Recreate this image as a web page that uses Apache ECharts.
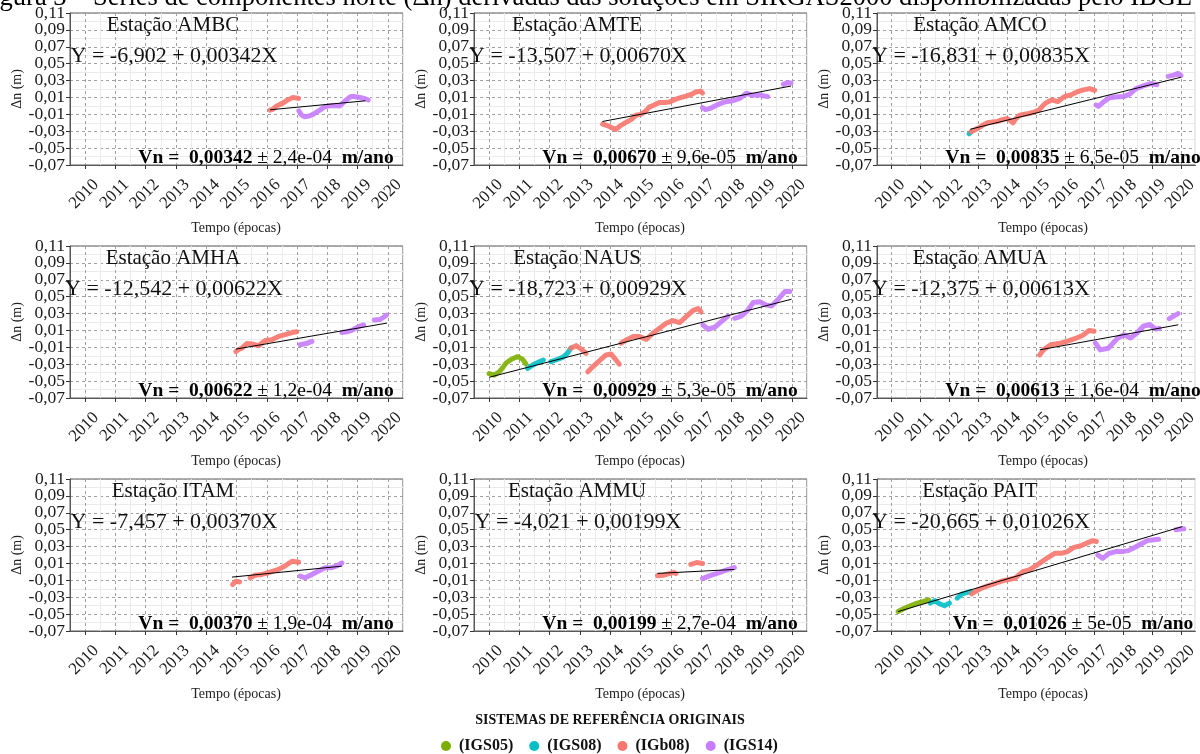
<!DOCTYPE html>
<html><head><meta charset="utf-8">
<script src="https://cdn.jsdelivr.net/npm/echarts@6/dist/echarts.min.js"></script>
<style>html,body{margin:0;padding:0;background:#fff}#chart{width:1200px;height:754px}</style>
</head><body><div id="chart"></div>
<script>
// ---------- DATA ----------
const stations = ['AMBC','AMTE','AMCO','AMHA','NAUS','AMUA','ITAM','AMMU','PAIT'];
const equations = ['Y = -6,902 + 0,00342X','Y = -13,507 + 0,00670X','Y = -16,831 + 0,00835X',
  'Y = -12,542 + 0,00622X','Y = -18,723 + 0,00929X','Y = -12,375 + 0,00613X',
  'Y = -7,457 + 0,00370X','Y = -4,021 + 0,00199X','Y = -20,665 + 0,01026X'];
const velocities = ['0,00342','0,00670','0,00835','0,00622','0,00929','0,00613','0,00370','0,00199','0,01026'];
const sigmas = ['2,4e-04','9,6e-05','6,5e-05','1,2e-04','5,3e-05','1,6e-04','1,9e-04','2,7e-04','5e-05'];
const frames = ['(IGS05)','(IGS08)','(IGb08)','(IGS14)'];
const yearTicks = [2010,2011,2012,2013,2014,2015,2016,2017,2018,2019,2020];
const yearMinor = [2009.5,2010.5,2011.5,2012.5,2013.5,2014.5,2015.5,2016.5,2017.5,2018.5,2019.5,2020.5];
const deltaTicks = [-0.07,-0.05,-0.03,-0.01,0.01,0.03,0.05,0.07,0.09,0.11];
const deltaMinor = [-0.06,-0.04,-0.02,0,0.02,0.04,0.06,0.08,0.10];

// AMBC
const AMBC_IGb08 = [[2016.11,-0.0050],[2016.2,-0.0040],[2016.31,-0.0005],[2016.42,0.0015],[2016.53,0.0033],[2016.64,0.0060],[2016.75,0.0080],[2016.86,0.0100],[2016.96,0.0095],[2017.05,0.0088]];
const AMBC_IGS14 = [[2017.06,-0.0060],[2017.15,-0.0110],[2017.25,-0.0130],[2017.4,-0.0120],[2017.53,-0.0100],[2017.75,-0.0050],[2017.9,-0.0015],[2018.02,0.0000],[2018.19,0.0005],[2018.41,0.0000],[2018.63,0.0070],[2018.75,0.0105],[2018.85,0.0115],[2019.07,0.0100],[2019.25,0.0085],[2019.35,0.0070]];
const AMBC_fit = [[2016.11,-0.0046],[2019.26,0.0060]];
// AMTE
const AMTE_IGb08 = [[2013.75,-0.0215],[2013.95,-0.0240],[2014.18,-0.0280],[2014.35,-0.0230],[2014.55,-0.0190],[2014.7,-0.0160],[2014.85,-0.0110],[2015.0,-0.0100],[2015.15,-0.0070],[2015.29,-0.0015],[2015.45,0.0010],[2015.62,0.0040],[2015.8,0.0040],[2015.95,0.0045],[2016.17,0.0080],[2016.35,0.0100],[2016.5,0.0115],[2016.7,0.0140],[2016.83,0.0165],[2016.99,0.0175],[2017.05,0.0150]];
const AMTE_IGS14a = [[2017.05,-0.0020],[2017.15,-0.0045],[2017.3,-0.0030],[2017.49,0.0005],[2017.65,0.0030],[2017.82,0.0050],[2018.04,0.0060],[2018.26,0.0085],[2018.4,0.0120],[2018.5,0.0150],[2018.7,0.0125],[2018.92,0.0130],[2019.05,0.0120],[2019.2,0.0110]];
const AMTE_IGS14b = [[2019.72,0.0255],[2019.85,0.0275],[2019.97,0.0270]];
const AMTE_fit = [[2013.74,-0.0185],[2019.97,0.0235]];
// AMCO
const AMCO_IGS08 = [[2012.68,-0.0330],[2012.75,-0.0310]];
const AMCO_IGb08 = [[2012.75,-0.0305],[2012.99,-0.0265],[2013.15,-0.0230],[2013.32,-0.0200],[2013.5,-0.0190],[2013.65,-0.0185],[2013.8,-0.0165],[2013.98,-0.0150],[2014.1,-0.0170],[2014.2,-0.0200],[2014.3,-0.0150],[2014.43,-0.0110],[2014.6,-0.0100],[2014.76,-0.0090],[2014.95,-0.0070],[2015.09,-0.0050],[2015.2,-0.0010],[2015.31,0.0030],[2015.53,0.0070],[2015.65,0.0060],[2015.75,0.0050],[2015.97,0.0110],[2016.19,0.0130],[2016.41,0.0165],[2016.63,0.0190],[2016.85,0.0205],[2017.02,0.0185]];
const AMCO_IGS14a = [[2017.07,0.0010],[2017.15,-0.0005],[2017.3,0.0040],[2017.52,0.0095],[2017.74,0.0105],[2018.01,0.0110],[2018.23,0.0140],[2018.45,0.0205],[2018.68,0.0235],[2018.95,0.0265],[2019.17,0.0250]];
const AMCO_IGS14b = [[2019.56,0.0350],[2019.75,0.0365],[2019.9,0.0385],[2020.0,0.0360]];
const AMCO_fit = [[2012.72,-0.0277],[2020.0,0.0339]];
// AMHA
const AMHA_IGb08 = [[2014.98,-0.0150],[2015.1,-0.0120],[2015.18,-0.0110],[2015.34,-0.0055],[2015.51,-0.0060],[2015.73,-0.0080],[2015.95,-0.0020],[2016.17,-0.0010],[2016.39,0.0030],[2016.61,0.0050],[2016.83,0.0075],[2016.99,0.0085]];
const AMHA_IGS14a = [[2017.1,-0.0070],[2017.3,-0.0055],[2017.49,-0.0030]];
const AMHA_IGS14b = [[2018.48,0.0075],[2018.65,0.0085],[2018.81,0.0100],[2019.03,0.0145],[2019.2,0.0165]];
const AMHA_IGS14c = [[2019.55,0.0225],[2019.75,0.0230],[2019.95,0.0280]];
const AMHA_fit = [[2014.98,-0.0121],[2019.97,0.0187]];
// NAUS
const NAUS_IGS05 = [[2010.0,-0.0410],[2010.17,-0.0430],[2010.33,-0.0390],[2010.45,-0.0340],[2010.55,-0.0290],[2010.66,-0.0260],[2010.77,-0.0235],[2010.94,-0.0210],[2011.1,-0.0240],[2011.21,-0.0295]];
const NAUS_IGS08a = [[2011.27,-0.0350],[2011.44,-0.0310],[2011.66,-0.0270],[2011.79,-0.0250]];
const NAUS_IGS08b = [[2012.04,-0.0270],[2012.2,-0.0250],[2012.43,-0.0220],[2012.59,-0.0170],[2012.7,-0.0110]];
const NAUS_IGb08a = [[2012.7,-0.0110],[2012.87,-0.0080],[2013.04,-0.0120],[2013.2,-0.0170]];
const NAUS_IGb08b = [[2013.26,-0.0390],[2013.42,-0.0330],[2013.64,-0.0260],[2013.86,-0.0190],[2014.03,-0.0180],[2014.19,-0.0250],[2014.3,-0.0300]];
const NAUS_IGb08c = [[2014.36,-0.0050],[2014.53,-0.0013],[2014.75,0.0027],[2014.97,0.0027],[2015.19,-0.0005],[2015.41,0.0066],[2015.63,0.0126],[2015.85,0.0185],[2016.07,0.0217],[2016.29,0.0193],[2016.51,0.0264],[2016.73,0.0335],[2016.9,0.0360],[2017.0,0.0320]];
const NAUS_IGS14a = [[2017.06,0.0165],[2017.23,0.0114],[2017.45,0.0138],[2017.67,0.0205],[2017.89,0.0270]];
const NAUS_IGS14b = [[2018.11,0.0244],[2018.33,0.0270],[2018.55,0.0340],[2018.72,0.0430],[2018.94,0.0440],[2019.16,0.0400],[2019.33,0.0390],[2019.55,0.0470],[2019.77,0.0560],[2019.93,0.0560]];
const NAUS_fit = [[2010.0,-0.0455],[2019.99,0.0470]];
// AMUA
const AMUA_IGb08 = [[2015.12,-0.0190],[2015.25,-0.0130],[2015.5,-0.0070],[2015.84,-0.0050],[2016.06,-0.0030],[2016.39,0.0010],[2016.6,0.0040],[2016.83,0.0100],[2017.0,0.0090]];
const AMUA_IGS14a = [[2017.05,-0.0050],[2017.21,-0.0130],[2017.49,-0.0110],[2017.82,0.0010],[2018.04,0.0050],[2018.26,0.0010],[2018.48,0.0070],[2018.7,0.0150],[2018.92,0.0170],[2019.14,0.0115],[2019.25,0.0125]];
const AMUA_IGS14b = [[2019.6,0.0240],[2019.75,0.0270],[2019.9,0.0300]];
const AMUA_fit = [[2015.12,-0.0130],[2019.91,0.0167]];
// ITAM
const ITAM_IGb08a = [[2014.87,-0.0150],[2014.98,-0.0110],[2015.1,-0.0120]];
const ITAM_IGb08b = [[2015.45,-0.0070],[2015.62,-0.0040],[2015.84,-0.0030],[2016.06,-0.0010],[2016.39,0.0030],[2016.6,0.0070],[2016.83,0.0125],[2017.05,0.0115]];
const ITAM_IGS14 = [[2017.1,-0.0050],[2017.27,-0.0070],[2017.49,-0.0030],[2017.71,0.0010],[2017.93,0.0050],[2018.15,0.0050],[2018.31,0.0070],[2018.48,0.0105]];
const ITAM_fit = [[2014.85,-0.0062],[2018.48,0.0068]];
// AMMU
const AMMU_IGb08a = [[2015.56,-0.0045],[2015.75,-0.0040],[2015.95,-0.0020],[2016.1,-0.0005],[2016.17,-0.0020]];
const AMMU_IGb08b = [[2016.66,0.0090],[2016.85,0.0110],[2017.05,0.0100]];
const AMMU_IGS14 = [[2017.05,-0.0080],[2017.25,-0.0050],[2017.6,-0.0010],[2017.8,0.0017],[2018.04,0.0045],[2018.1,0.0050]];
const AMMU_fit = [[2015.56,-0.0018],[2018.1,0.0029]];
// PAIT
const PAIT_IGS05 = [[2010.23,-0.0470],[2010.45,-0.0430],[2010.67,-0.0400],[2010.89,-0.0370],[2011.11,-0.0350],[2011.28,-0.0330]];
const PAIT_IGS08a = [[2011.34,-0.0370],[2011.5,-0.0340],[2011.67,-0.0380],[2011.83,-0.0400],[2012.0,-0.0370]];
const PAIT_IGS08b = [[2012.27,-0.0310],[2012.44,-0.0260],[2012.6,-0.0246],[2012.75,-0.0230]];
const PAIT_IGb08 = [[2012.77,-0.0260],[2012.99,-0.0214],[2013.21,-0.0180],[2013.43,-0.0155],[2013.65,-0.0127],[2013.87,-0.0103],[2014.09,-0.0088],[2014.26,-0.0076],[2014.54,0.0003],[2014.76,0.0023],[2014.98,0.0070],[2015.2,0.0122],[2015.42,0.0173],[2015.64,0.0220],[2015.86,0.0220],[2016.08,0.0240],[2016.3,0.0290],[2016.52,0.0307],[2016.74,0.0340],[2016.96,0.0370],[2017.08,0.0360]];
const PAIT_IGS14a = [[2017.13,0.0200],[2017.3,0.0160],[2017.52,0.0220],[2017.74,0.0240],[2017.96,0.0240],[2018.18,0.0252],[2018.4,0.0290],[2018.62,0.0330],[2018.84,0.0370],[2019.06,0.0380],[2019.23,0.0386]];
const PAIT_IGS14b = [[2019.83,0.0500],[2019.95,0.0505],[2020.1,0.0510]];
const PAIT_fit = [[2010.23,-0.0470],[2020.05,0.0537]];

// segments per station: [frame index, data]
const segments = [
  [[2,AMBC_IGb08],[3,AMBC_IGS14]],
  [[2,AMTE_IGb08],[3,AMTE_IGS14a],[3,AMTE_IGS14b]],
  [[1,AMCO_IGS08],[2,AMCO_IGb08],[3,AMCO_IGS14a],[3,AMCO_IGS14b]],
  [[2,AMHA_IGb08],[3,AMHA_IGS14a],[3,AMHA_IGS14b],[3,AMHA_IGS14c]],
  [[0,NAUS_IGS05],[1,NAUS_IGS08a],[1,NAUS_IGS08b],[2,NAUS_IGb08a],[2,NAUS_IGb08b],[2,NAUS_IGb08c],[3,NAUS_IGS14a],[3,NAUS_IGS14b]],
  [[2,AMUA_IGb08],[3,AMUA_IGS14a],[3,AMUA_IGS14b]],
  [[2,ITAM_IGb08a],[2,ITAM_IGb08b],[3,ITAM_IGS14]],
  [[2,AMMU_IGb08a],[2,AMMU_IGb08b],[3,AMMU_IGS14]],
  [[0,PAIT_IGS05],[1,PAIT_IGS08a],[1,PAIT_IGS08b],[2,PAIT_IGb08],[3,PAIT_IGS14a],[3,PAIT_IGS14b]]
];
const fits = [AMBC_fit,AMTE_fit,AMCO_fit,AMHA_fit,NAUS_fit,AMUA_fit,ITAM_fit,AMMU_fit,PAIT_fit];

// ---------- STYLE / LAYOUT ----------
const FAM = '"Liberation Serif", "Times New Roman", serif';
const frameColors = ['#7CAE00','#00BFC4','#F8766D','#C77CFF'];
const colLeft = [70, 474, 877], rowTop = [13, 246, 479], PW = 333, PH = 152;

const grid = [], xAxis = [], yAxis = [], series = [], graphic = [];
const fmtY = v => v.toFixed(2).replace('.', ',');
// tick labels split over two axes so neighbouring labels never get hidden
const labelsA = deltaTicks.filter((v, k) => k % 2 === 0);
const labelsB = deltaTicks.filter((v, k) => k % 2 === 1);
const yLabelStyle = {margin:5, showMinLabel:true, showMaxLabel:true, hideOverlap:false,
  fontFamily:FAM, fontSize:17.5, color:'#1a1a1a', formatter: fmtY};

graphic.push({type:'text', x:-22.5, y:12, z:100, style:{
  text:'Figura 3 – Séries de componentes norte (Δn) derivadas das soluções em SIRGAS2000 disponibilizadas pelo IBGE',
  font:'26.5px ' + FAM, fill:'#000', align:'left', textAlign:'left', verticalAlign:'bottom', textVerticalAlign:'bottom'}});

stations.forEach((st, i) => {
  const r = Math.floor(i / 3), c = i % 3;
  const L = colLeft[c], T = rowTop[r];
  grid.push({left:L, top:T, width:PW, height:PH, show:true, borderColor:'#595959', borderWidth:1, backgroundColor:'#fff'});
  // minor axes (index 2i)
  xAxis.push({gridIndex:i, type:'value', min:2009.5, max:2020.5, position:'bottom',
    axisLine:{show:false}, axisTick:{show:false, customValues:yearMinor}, axisLabel:{show:false, customValues:yearMinor},
    splitLine:{show:true, lineStyle:{color:'#ebebeb', width:1}}});
  yAxis.push({gridIndex:i, type:'value', min:-0.07, max:0.11, position:'left',
    axisLine:{show:false}, axisTick:{show:false, customValues:deltaMinor},
    axisLabel:Object.assign({show:true, customValues:labelsB}, yLabelStyle),
    splitLine:{show:true, lineStyle:{color:'#ebebeb', width:1}}});
  // major axes (index 2i+1)
  xAxis.push({gridIndex:i, type:'value', min:2009.5, max:2020.5, position:'bottom',
    axisLine:{show:true, onZero:false, lineStyle:{color:'#595959'}},
    axisTick:{show:true, customValues:yearTicks, length:4, lineStyle:{color:'#333'}},
    axisLabel:{show:true, customValues:yearTicks, rotate:45, margin:6, align:'right', verticalAlign:'top',
      padding:[7, 0, 0, 0], showMinLabel:true, showMaxLabel:true, hideOverlap:false,
      fontFamily:FAM, fontSize:17, color:'#1a1a1a', formatter: v => String(Math.round(v))},
    splitLine:{show:true, lineStyle:{color:'#a0a0a0', width:1, type:[3,3]}}});
  yAxis.push({gridIndex:i, type:'value', min:-0.07, max:0.11, position:'left',
    axisLine:{show:true, onZero:false, lineStyle:{color:'#595959'}},
    axisTick:{show:true, customValues:deltaTicks, length:4, lineStyle:{color:'#333'}},
    axisLabel:Object.assign({show:true, customValues:labelsA}, yLabelStyle),
    splitLine:{show:true, lineStyle:{color:'#a0a0a0', width:1, type:[3,3]}}});
  const xi = 2 * i + 1, yi = 2 * i + 1;
  segments[i].forEach(([f, data]) => {
    series.push({type:'line', name:frames[f], xAxisIndex:xi, yAxisIndex:yi, data:data,
      showSymbol:false, symbol:'circle', silent:true, z:2, emphasis:{disabled:true},
      lineStyle:{color:frameColors[f], width:5, opacity:0.9, cap:'round', join:'round'},
      itemStyle:{color:frameColors[f]}});
  });
  series.push({type:'line', name:'ajuste ' + st, xAxisIndex:xi, yAxisIndex:yi, data:fits[i],
    showSymbol:false, silent:true, z:3, emphasis:{disabled:true}, lineStyle:{color:'#000', width:1}});

  graphic.push({type:'text', x:L + 103, y:T + 12, z:100, style:{text:'Estação ' + st, font:'21px ' + FAM, fill:'#111',
    align:'center', textAlign:'center', verticalAlign:'middle', textVerticalAlign:'middle'}});
  graphic.push({type:'text', x:L + 104, y:T + 43, z:100, style:{text:equations[i], font:'22px ' + FAM, fill:'#111',
    align:'center', textAlign:'center', verticalAlign:'middle', textVerticalAlign:'middle'}});
  graphic.push({type:'text', x:L + 196, y:T + 145, z:100, style:{
    text:'{b|Vn =  ' + velocities[i] + '} {n|± ' + sigmas[i] + '}  {b|m/ano}',
    fontSize:19.5, fontFamily:FAM, fill:'#000',
    rich:{b:{fontSize:19.5, fontFamily:FAM, fontWeight:'bold', fill:'#000'}, n:{fontSize:19.5, fontFamily:FAM, fill:'#000'}},
    align:'center', textAlign:'center', verticalAlign:'middle', textVerticalAlign:'middle'}});
  graphic.push({type:'text', x:L - 53, y:T + 76, rotation:Math.PI / 2, z:100, style:{text:'Δn (m)', font:'14px ' + FAM, fill:'#222',
    align:'center', textAlign:'center', verticalAlign:'middle', textVerticalAlign:'middle'}});
  graphic.push({type:'text', x:L + 166, y:T + 215, z:100, style:{text:'Tempo (épocas)', font:'14px ' + FAM, fill:'#222',
    align:'center', textAlign:'center', verticalAlign:'middle', textVerticalAlign:'middle'}});
});

graphic.push({type:'text', x:610, y:720, z:100, style:{text:'SISTEMAS DE REFERÊNCIA ORIGINAIS', font:'bold 14px ' + FAM, fill:'#111',
  align:'center', textAlign:'center', verticalAlign:'middle', textVerticalAlign:'middle'}});

const chart = echarts.init(document.getElementById('chart'), null, {renderer:'canvas'});
chart.setOption({
  animation:false,
  backgroundColor:'#fff',
  grid, xAxis, yAxis, series, graphic,
  legend:{data:frames, left:441, top:738, padding:0, icon:'circle', itemWidth:16, itemHeight:10, itemGap:16,
    selectedMode:false, textStyle:{fontFamily:FAM, fontWeight:'bold', fontSize:16, color:'#111'}}
});
</script></body></html>
